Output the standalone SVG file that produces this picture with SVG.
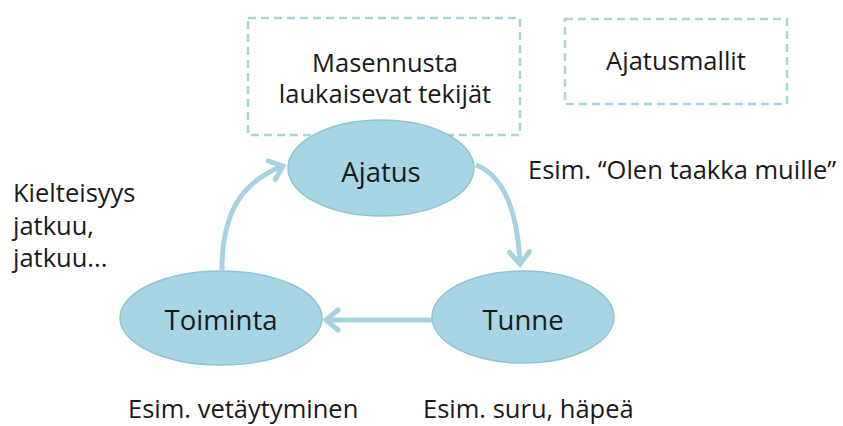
<svg xmlns="http://www.w3.org/2000/svg" width="843" height="426" viewBox="0 0 843 426">
  <defs>
    <marker id="arr" markerUnits="userSpaceOnUse" markerWidth="30" markerHeight="30" viewBox="-15 -15 30 30" refX="0" refY="0" orient="auto">
      <path d="M-12,-10 L0,0 L-12,10" fill="none" stroke="#a7d3e1" stroke-width="5" stroke-linejoin="miter" stroke-linecap="round"/>
    </marker>
  </defs>
  <style>
    .box { fill: #ffffff; stroke: #a9d3d8; stroke-width: 2.5; stroke-dasharray: 8 5; }
    .node { fill: #a8d5e3; stroke: #8fc4d4; stroke-width: 1.5; }
    .t { font-family: "Open Sans", "Noto Sans", sans-serif; font-size: 25.5px; fill: #1a1a1a; }
    .lbl { font-family: "Open Sans", "Noto Sans", sans-serif; font-size: 27.5px; fill: #1a1a1a; text-anchor: middle; }
    .c { text-anchor: middle; }
    .conn { fill: none; stroke: #a7d3e1; stroke-width: 5; marker-end: url(#arr); }
  </style>
  <rect width="843" height="426" fill="#ffffff"/>

  <g id="box-triggers">
    <rect class="box" x="248" y="18" width="272" height="117"/>
    <text class="t c" x="385" y="72">Masennusta</text>
    <text class="t c" x="385" y="103">laukaisevat tekijät</text>
  </g>

  <g id="box-patterns">
    <rect class="box" x="565" y="19" width="222" height="85"/>
    <text class="t c" x="676" y="70">Ajatusmallit</text>
  </g>

  <g id="connectors">
    <path class="conn" d="M222,270 C222,215 240,182 283,166"/>
    <path class="conn" d="M476,165 C505,176 518,215 520,264"/>
    <path class="conn" d="M432,320 L326,320"/>
  </g>

  <g id="node-ajatus">
    <ellipse class="node" cx="381" cy="168" rx="93" ry="48"/>
    <text class="lbl" x="381" y="182">Ajatus</text>
  </g>

  <g id="node-toiminta">
    <ellipse class="node" cx="221" cy="318" rx="101" ry="47"/>
    <text class="lbl" x="221" y="330">Toiminta</text>
  </g>

  <g id="node-tunne">
    <ellipse class="node" cx="523" cy="317" rx="91" ry="46"/>
    <text class="lbl" x="523" y="330">Tunne</text>
  </g>

  <g id="note-denial">
    <text class="t" x="13" y="202">Kielteisyys</text>
    <text class="t" x="13" y="235">jatkuu,</text>
    <text class="t" x="13" y="267">jatkuu...</text>
  </g>

  <g id="note-thought">
    <text class="t" x="528" y="179">Esim. “Olen taakka muille”</text>
  </g>

  <g id="note-action">
    <text class="t" x="128" y="418">Esim. vetäytyminen</text>
  </g>

  <g id="note-feeling">
    <text class="t" x="423" y="418">Esim. suru, häpeä</text>
  </g>
</svg>
